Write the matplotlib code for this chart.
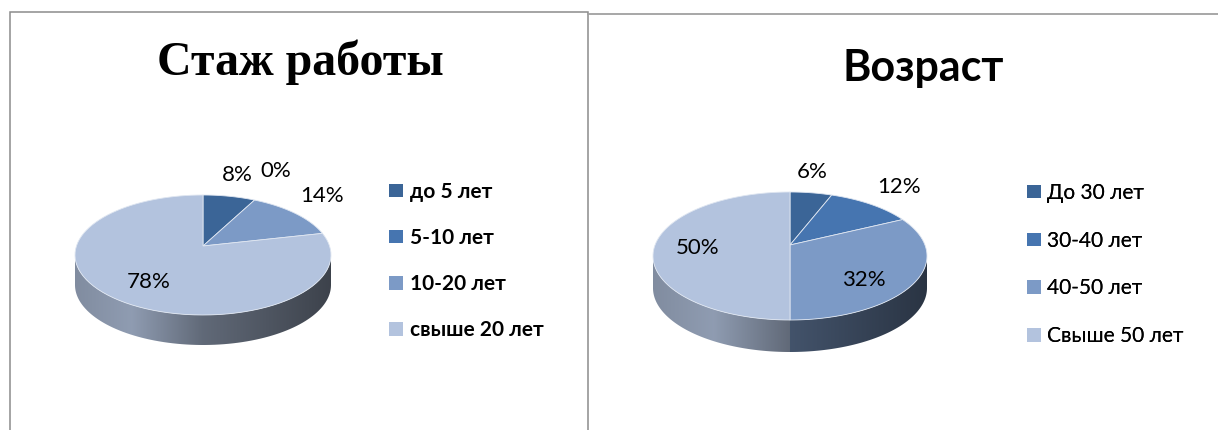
import numpy as np
import matplotlib
matplotlib.use("Agg")
import matplotlib.pyplot as plt
from matplotlib.patches import Polygon, Patch
from matplotlib.colors import to_rgb

W, H = 1218, 430

# data
titles = ["Стаж работы", "Возраст"]
cats_left = ["до 5 лет", "5-10 лет", "10-20 лет", "свыше 20 лет"]
vals_left = [8, 0, 14, 78]
cats_right = ["До 30 лет", "30-40 лет", "40-50 лет", "Свыше 50 лет"]
vals_right = [6, 12, 32, 50]
colors = ["#3b6597", "#4675b0", "#7c9ac6", "#b3c3de"]

FONT = ["Lato", "Open Sans", "DejaVu Sans"]

fig = plt.figure(figsize=(W / 100, H / 100), dpi=100, facecolor="white")
ax = fig.add_axes([0, 0, 1, 1])
ax.set_axis_off()


def reset():
    ax.set_xlim(0, W)
    ax.set_ylim(H, 0)


def warp(t):
    # tilted-view foreshortening of the slice angles
    return t - np.radians(10.5) * np.sin(t)


def arc(cx, cy, rx, ry, a, b, n=90):
    t = warp(np.linspace(a, b, n))
    return np.column_stack([cx + rx * np.sin(t), cy - ry * np.cos(t)])


def pie3d(vals, cx, cy, rx, ry, apex_y, depth):
    edges = np.cumsum([0] + list(vals)) / sum(vals) * 2 * np.pi
    # side walls, visible on the front half only
    for v, c, a, b in zip(vals, colors, edges[:-1], edges[1:]):
        lo, hi = np.pi / 2 + np.radians(10.5), 3 * np.pi / 2 - np.radians(10.5)
        a2, b2 = max(a, lo), min(b, hi)
        if v == 0 or b2 <= a2:
            continue
        top = arc(cx, cy, rx, ry, a2, b2)
        low = top[::-1] + [0, depth]
        clip = Polygon(np.vstack([top, low]), closed=True, transform=ax.transData,
                       fc="none", ec="none")
        ax.add_patch(clip)
        u = np.linspace(0, 1, 256)
        shade = np.interp(u, [0, 0.22, 0.5, 1], [0.72, 0.80, 0.54, 0.34])
        img = np.outer(shade, to_rgb(c))[None, :, :]
        im = ax.imshow(img, extent=(cx - rx, cx + rx, cy + ry + depth + 2, cy - 2),
                       aspect="auto", zorder=2, interpolation="bilinear")
        im.set_clip_path(clip)
    # top face
    for v, c, a, b in zip(vals, colors, edges[:-1], edges[1:]):
        if v == 0:
            continue
        pts = np.vstack([[cx, apex_y], arc(cx, cy, rx, ry, a, b)])
        ax.add_patch(Polygon(pts, closed=True, fc=c, ec="#dfe6f1", lw=0.6, zorder=3))
    reset()


def legend(cats, x, y, weight, spacing, pad):
    handles = [Patch(fc=c, ec="none", label=t) for c, t in zip(colors, cats)]
    leg = ax.legend(handles=handles, loc="upper left", bbox_to_anchor=(x, y),
                    bbox_transform=ax.transData, frameon=False, borderpad=0,
                    borderaxespad=0, labelspacing=spacing, handlelength=0.65,
                    handleheight=0.62, handletextpad=pad,
                    prop={"family": FONT, "size": 15.0, "weight": weight})
    ax.add_artist(leg)


pie3d(vals_left, 203, 255, 128, 60, 246, 30)
pie3d(vals_right, 790, 256, 137, 64, 245, 32)

legend(cats_left, 389, 182, "bold", 1.25, 0.37)
legend(cats_right, 1027, 183, "normal", 1.33, 0.33)

# value labels
labels_left = [(237, 175), (276, 171), (322, 196), (149, 282)]
labels_right = [(812, 172), (899, 187), (864, 280), (698, 248)]
for vals, pos in ((vals_left, labels_left), (vals_right, labels_right)):
    for v, (x, y) in zip(vals, pos):
        ax.text(x, y, f"{v}%", ha="center", va="center", fontsize=16,
                family=FONT, color="black", zorder=5)

ax.text(300, 62, titles[0], ha="center", va="center", fontsize=34.5, weight="bold",
        family="Liberation Serif", color="black")
ax.text(923, 68, titles[1], ha="center", va="center", fontsize=31, weight="bold",
        family=FONT, color="black")

# panel borders
bc = "#8c8c8c"
ax.plot([10, 10, 588, 588], [H, 12, 12, H], color=bc, lw=1.1, solid_joinstyle="miter")
ax.plot([588, W], [13.5, 13.5], color="#a0a0a0", lw=1.3)
reset()

fig.savefig("out.png", dpi=100, facecolor="white")
